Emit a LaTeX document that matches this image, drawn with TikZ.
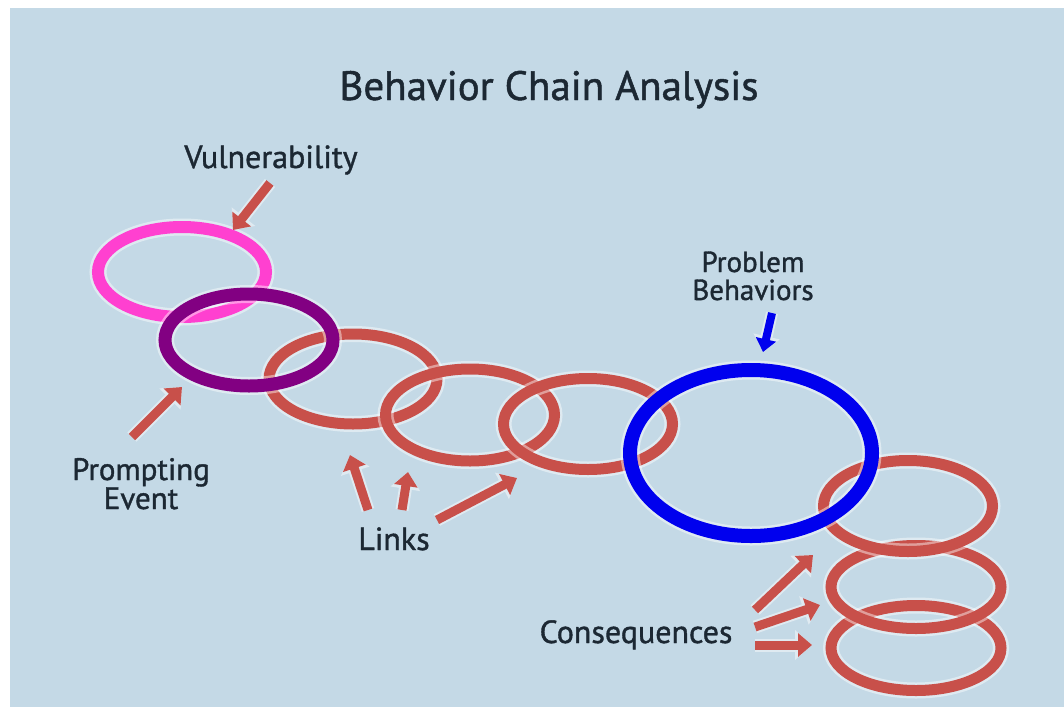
\documentclass[tikz,border=0pt]{standalone}
\usepackage{fontspec}
\setmainfont{PT Sans}[FakeBold=1.2]
\usetikzlibrary{arrows.meta}
\definecolor{bg}{HTML}{C4D9E6}
\definecolor{ringred}{HTML}{C8504A}
\definecolor{ringpink}{HTML}{FF40D0}
\definecolor{ringpurple}{HTML}{820082}
\definecolor{ringblue}{HTML}{0000EE}
\definecolor{ink}{HTML}{1C2833}
\tikzset{
  halo/.style={draw=white, opacity=0.45, line width=#1},
  ring/.style={draw=#1},
  lbl/.style={text=ink, inner sep=0pt, anchor=base, align=center},
  bigarrow/.style={draw=ringred, line width=9pt, -{Triangle[length=14pt,width=23pt]}},
  bigarrowhalo/.style={draw=white!45!bg, line width=13pt, -{Triangle[length=17pt,width=29pt]}},
  bluearrow/.style={draw=ringblue, line width=8pt, -{Triangle[length=13pt,width=20pt]}},
  bluearrowhalo/.style={draw=white!45!bg, line width=12pt, -{Triangle[length=16pt,width=26pt]}},
}
\newcommand{\ringdraw}[6]{%
  % #1 cx, #2 cy, #3 rx, #4 ry, #5 color, #6 width
  \draw[halo=#6pt+5pt] (#1,#2) ellipse [x radius=#3pt, y radius=#4pt];
  \draw[ring=#5, line width=#6pt] (#1,#2) ellipse [x radius=#3pt, y radius=#4pt];
}
\begin{document}
\begin{tikzpicture}[x=1pt,y=-1pt]
\useasboundingbox (0,0) rectangle (1064,707);
\fill[white] (0,0) rectangle (1064,707);
\fill[bg] (10,8) rectangle (1064,707);

% title
\node[lbl, font=\fontsize{41}{46}\selectfont] (title) at (549,100) {Behavior Chain Analysis};

% rings
\ringdraw{182}{272}{84}{45}{ringpink}{12}
\ringdraw{353}{379}{84}{45}{ringred}{11}
\ringdraw{249}{340}{84}{46}{ringpurple}{13}
\ringdraw{470}{415}{84.5}{46}{ringred}{11}
\ringdraw{588}{424}{84.5}{45.5}{ringred}{11}
\ringdraw{916}{648}{85}{42.5}{ringred}{11}
\ringdraw{916}{587}{85}{41.5}{ringred}{11}
\ringdraw{908}{506}{84.5}{45.5}{ringred}{11}
\ringdraw{751}{453}{121}{83}{ringblue}{14}

% labels
\node[lbl, font=\fontsize{32}{36}\selectfont] (vul) at (271,168) {Vulnerability};
\node[lbl, font=\fontsize{31}{29}\selectfont] (pe) at (141,509) {Prompting\\Event};
\node[lbl, font=\fontsize{32}{36}\selectfont] (links) at (394,550) {Links};
\node[lbl, font=\fontsize{29}{28}\selectfont] (pb) at (753,300) {Problem\\Behaviors};
\node[lbl, font=\fontsize{32}{36}\selectfont] (cons) at (636,643) {Consequences};

% arrow end points
\coordinate (vA) at (270,183); \coordinate (vB) at (233,230);
\coordinate (pA) at (132,437); \coordinate (pB) at (182,387);
\coordinate (l1A) at (368,510); \coordinate (l1B) at (350,455);
\coordinate (l2A) at (402,510); \coordinate (l2B) at (408,472);
\coordinate (l3A) at (437,520); \coordinate (l3B) at (517,478);
\coordinate (bA) at (772,313); \coordinate (bB) at (763,352);
\coordinate (c1A) at (755,610); \coordinate (c1B) at (813,555);
\coordinate (c2A) at (755,627); \coordinate (c2B) at (820,605);
\coordinate (c3A) at (755,645); \coordinate (c3B) at (812,645);

\foreach \a/\b in {vA/vB,pA/pB,l1A/l1B,l2A/l2B,l3A/l3B,c1A/c1B,c2A/c2B,c3A/c3B}{
  \draw[bigarrowhalo] (\a) -- (\b);
}
\foreach \a/\b in {vA/vB,pA/pB,l1A/l1B,l2A/l2B,l3A/l3B,c1A/c1B,c2A/c2B,c3A/c3B}{
  \draw[bigarrow] (\a) -- (\b);
}
\draw[bluearrowhalo] (bA) -- (bB);
\draw[bluearrow] (bA) -- (bB);
\end{tikzpicture}
\end{document}
